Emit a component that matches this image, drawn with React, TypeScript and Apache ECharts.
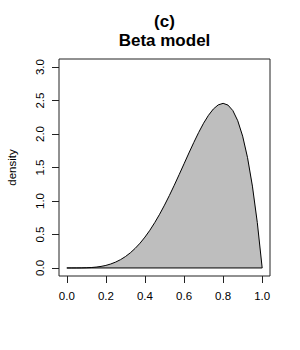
import React, { useEffect, useRef } from "react";
import * as echarts from "echarts";

const xValues = [0, 0.025, 0.05, 0.075, 0.1, 0.125, 0.15, 0.175, 0.2, 0.225, 0.25, 0.275, 0.3, 0.325, 0.35, 0.375, 0.4, 0.425, 0.45, 0.475, 0.5, 0.525, 0.55, 0.575, 0.6, 0.625, 0.65, 0.675, 0.7, 0.725, 0.75, 0.775, 0.8, 0.825, 0.85, 0.875, 0.9, 0.925, 0.95, 0.975, 1.0];
const densityValues = [0, 0.0000, 0.0002, 0.0009, 0.003, 0.0064, 0.013, 0.0232, 0.038, 0.0596, 0.088, 0.1244, 0.17, 0.2259, 0.293, 0.3708, 0.461, 0.5628, 0.677, 0.8018, 0.938, 1.0826, 1.235, 1.3937, 1.555, 1.7166, 1.874, 2.024, 2.161, 2.279, 2.373, 2.435, 2.458, 2.432, 2.349, 2.198, 1.968, 1.647, 1.222, 0.678, 0];
const xTicks = [0, 0.2, 0.4, 0.6, 0.8, 1.0];
const yTicks = [0, 0.5, 1.0, 1.5, 2.0, 2.5, 3.0];
const titleLines = ["(c)", "Beta model"];
const yLabel = "density";

const FONT = "'Liberation Sans', Arial, Helvetica, sans-serif";

export default function App() {
  const ref = useRef<HTMLDivElement>(null);
  useEffect(() => {
    document.body.style.margin = "0";
    const chart = echarts.init(ref.current!, undefined, { renderer: "svg" });
    const curve = xValues.map((x, i) => [x, densityValues[i]]);
    const baseline = [
      [xValues[0], 0],
      [xValues[xValues.length - 1], 0],
    ];
    chart.setOption({
      animation: false,
      backgroundColor: "#ffffff",
      grid: {
        left: 59,
        top: 59,
        width: 211,
        height: 217,
        show: true,
        borderColor: "#222",
        borderWidth: 1,
        backgroundColor: "transparent",
      },
      xAxis: {
        type: "value",
        min: -0.04,
        max: 1.04,
        axisLine: { show: false, onZero: false },
        splitLine: { show: false },
        axisTick: {
          show: true,
          customValues: xTicks,
          length: 7,
          lineStyle: { color: "#222", width: 1 },
        },
        axisLabel: {
          customValues: xTicks,
          formatter: (v: number) => v.toFixed(1),
          fontFamily: FONT,
          fontSize: 11.5,
          color: "#000",
          margin: 14,
        },
      },
      yAxis: {
        type: "value",
        min: -0.12,
        max: 3.12,
        axisLine: { show: false, onZero: false },
        splitLine: { show: false },
        axisTick: {
          show: true,
          customValues: yTicks,
          length: 7,
          lineStyle: { color: "#222", width: 1 },
        },
        axisLabel: {
          customValues: yTicks,
          rotate: 90,
          formatter: (v: number) => v.toFixed(1),
          fontFamily: FONT,
          fontSize: 11.5,
          color: "#000",
          margin: 13,
        },
      },
      graphic: [
        {
          type: "text",
          x: 164.5,
          y: 21,
          style: {
            text: titleLines[0],
            font: `bold 17px ${FONT}`,
            fill: "#000",
            textAlign: "center",
            textVerticalAlign: "middle",
          },
        },
        {
          type: "text",
          x: 164.5,
          y: 40.5,
          style: {
            text: titleLines[1],
            font: `bold 17px ${FONT}`,
            fill: "#000",
            textAlign: "center",
            textVerticalAlign: "middle",
          },
        },
        {
          type: "text",
          x: 12,
          y: 167.5,
          rotation: Math.PI / 2,
          style: {
            text: yLabel,
            font: `11.5px ${FONT}`,
            fill: "#000",
            textAlign: "center",
            textVerticalAlign: "middle",
          },
        },
      ],
      series: [
        {
          type: "line",
          data: curve,
          showSymbol: false,
          smooth: false,
          lineStyle: { color: "#000", width: 1 },
          areaStyle: { color: "#BEBEBE", opacity: 1, origin: 0 },
          z: 2,
        },
        {
          type: "line",
          data: baseline,
          showSymbol: false,
          lineStyle: { color: "#000", width: 1 },
          z: 3,
        },
      ],
    });
    return () => chart.dispose();
  }, []);
  return (
    <div
      ref={ref}
      style={{ width: 300, height: 350, position: "absolute", left: 0, top: 0 }}
    />
  );
}
